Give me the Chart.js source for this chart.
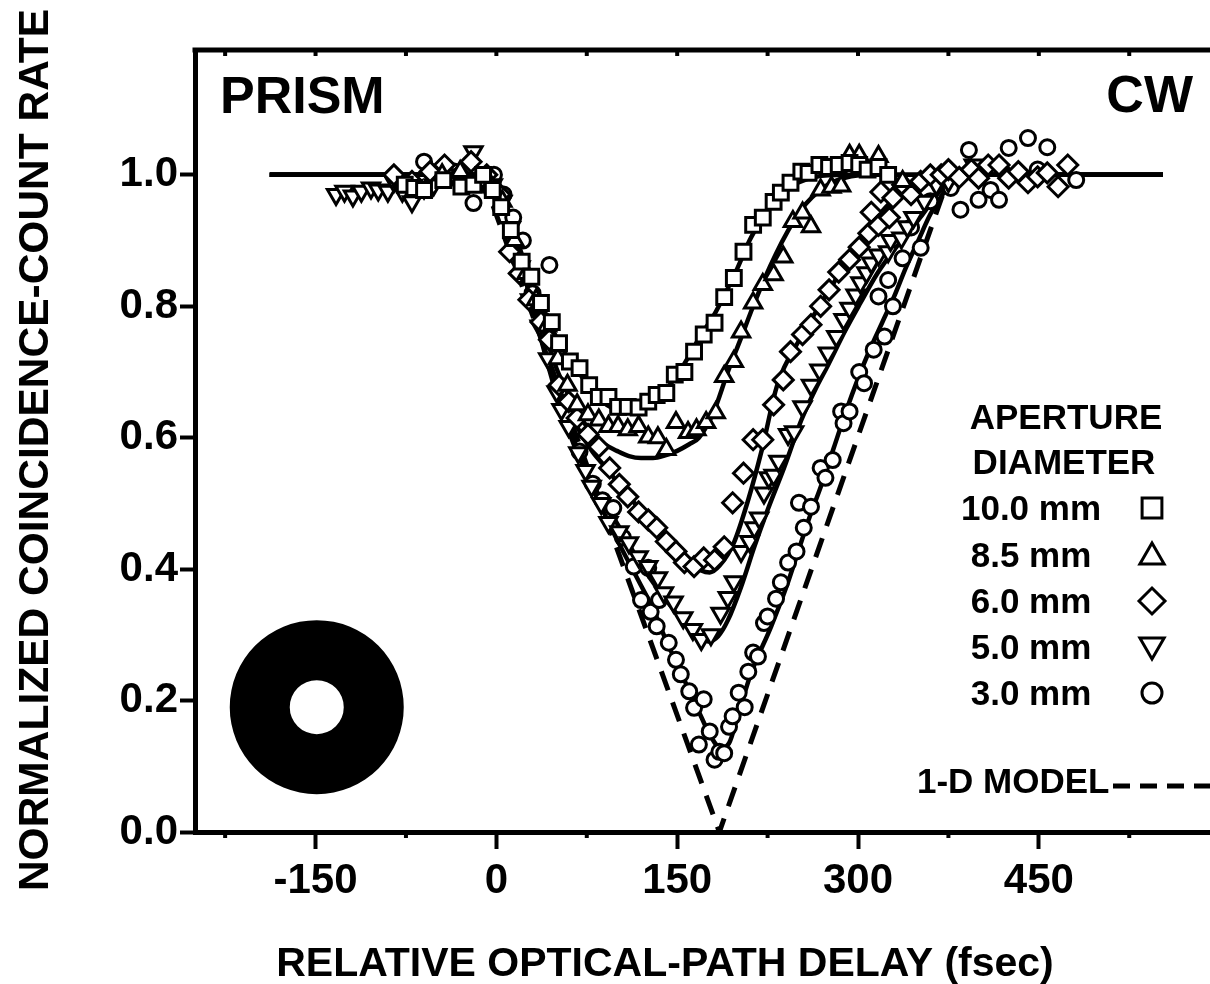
<!DOCTYPE html>
<html>
<head>
<meta charset="utf-8">
<script src="https://cdn.jsdelivr.net/npm/chart.js@4.4.1/dist/chart.umd.min.js"></script>
<style>
  html, body { margin: 0; padding: 0; background: #fff; overflow: hidden; }
  #wrap { position: relative; width: 1210px; height: 984px; }
</style>
</head>
<body>
<div id="wrap"><canvas id="chart"></canvas></div>
<script>
// ---- data: [delay fsec, normalized rate] ----
const d100 = [[-76,0.985],[-68,0.980],[-60,0.977],[-44,0.992],[-29,0.982],[-19,0.985],[-11,1.0],[-3,0.977],[4,0.951],[12,0.916],[21,0.868],[29,0.845],[37,0.805],[46,0.776],[52,0.744],[61,0.716],[69,0.706],[77,0.680],[85,0.662],[93,0.662],[101,0.647],[109,0.647],[118,0.646],[126,0.655],[133,0.665],[141,0.668],[148,0.696],[156,0.700],[164,0.731],[172,0.757],[181,0.775],[189,0.814],[197,0.843],[205,0.883],[213,0.924],[221,0.935],[230,0.959],[236,0.973],[244,0.988],[253,1.005],[259,1.003],[268,1.015],[276,1.012],[284,1.015],[293,1.018],[301,1.015],[308,1.008],[317,1.012],[325,1.0]];
const d85 = [[-45,1.0],[-30,1.005],[-15,0.99],[-5,0.985],[5,0.96],[15,0.9],[25,0.85],[33,0.81],[42,0.77],[51,0.72],[59,0.68],[67,0.65],[76,0.635],[85,0.627],[93,0.617],[101,0.617],[109,0.612],[118,0.617],[126,0.601],[134,0.600],[141,0.582],[149,0.623],[159,0.608],[166,0.612],[174,0.623],[182,0.638],[189,0.693],[197,0.716],[203,0.761],[213,0.805],[221,0.833],[230,0.848],[238,0.875],[246,0.929],[254,0.942],[261,0.921],[269,0.977],[278,0.981],[286,0.983],[293,1.03],[301,1.03],[317,1.028],[337,0.99]];
const d60 = [[-85,1.0],[-70,0.99],[-55,1.005],[-43,1.015],[-30,1.0],[-21,1.02],[-8,1.0],[3,0.97],[11,0.883],[19,0.85],[27,0.81],[37,0.776],[44,0.749],[52,0.68],[60,0.655],[67,0.63],[76,0.605],[85,0.586],[94,0.554],[102,0.529],[109,0.51],[118,0.487],[126,0.475],[133,0.463],[141,0.442],[149,0.427],[156,0.41],[164,0.404],[172,0.417],[181,0.414],[189,0.434],[196,0.501],[205,0.546],[213,0.597],[221,0.597],[230,0.65],[238,0.688],[244,0.731],[254,0.757],[261,0.772],[269,0.8],[276,0.825],[284,0.852],[293,0.871],[301,0.89],[309,0.911],[311,0.943],[317,0.923],[319,0.974],[326,0.935],[329,0.965],[337,0.985],[344,0.97],[352,0.99],[360,1.0],[369,1.0],[375,1.008],[384,0.996],[394,1.008],[400,0.995],[408,1.015],[417,1.015],[425,0.995],[433,1.005],[441,0.988],[449,0.997],[457,1.003],[466,0.982],[474,1.015]];
const d50 = [[-133,0.97],[-126,0.975],[-119,0.968],[-112,0.975],[-104,0.98],[-98,0.977],[-90,0.975],[-85,0.99],[-78,0.975],[-70,0.959],[-60,0.98],[-52,0.985],[-37,1.0],[-28,0.995],[-19,1.035],[-11,0.99],[-3,0.985],[5,0.96],[12,0.92],[20,0.86],[28,0.81],[36,0.77],[43,0.72],[50,0.67],[54,0.643],[60,0.617],[68,0.577],[74,0.55],[79,0.526],[87,0.50],[93,0.471],[102,0.457],[110,0.44],[118,0.419],[126,0.404],[134,0.387],[139,0.364],[147,0.35],[155,0.326],[163,0.308],[170,0.293],[178,0.30],[186,0.333],[192,0.357],[197,0.381],[203,0.427],[210,0.442],[214,0.463],[218,0.478],[222,0.516],[226,0.539],[230,0.543],[234,0.564],[242,0.605],[247,0.609],[254,0.647],[261,0.68],[268,0.703],[275,0.729],[282,0.754],[288,0.78],[293,0.797],[298,0.817],[302,0.836],[307,0.851],[311,0.866],[317,0.878],[325,0.883],[327,0.9],[336,0.904],[341,0.921],[346,0.935],[355,0.96],[365,0.985],[375,0.99],[385,1.0],[396,1.015]];
const d30 = [[-60,1.02],[-48,1.0],[-35,1.005],[-19,0.957],[-2,1.0],[6,0.97],[14,0.935],[22,0.9],[30,0.82],[38,0.78],[44,0.863],[52,0.68],[60,0.63],[69,0.579],[80,0.53],[88,0.505],[97,0.493],[105,0.448],[114,0.404],[120,0.353],[126,0.402],[128,0.335],[133,0.313],[135,0.353],[143,0.288],[149,0.262],[153,0.24],[160,0.214],[164,0.189],[168,0.133],[172,0.202],[177,0.153],[181,0.11],[185,0.122],[189,0.12],[193,0.16],[196,0.176],[201,0.212],[206,0.19],[209,0.244],[213,0.273],[217,0.267],[222,0.318],[225,0.328],[232,0.355],[236,0.38],[242,0.41],[249,0.427],[251,0.501],[255,0.463],[261,0.495],[269,0.554],[273,0.539],[279,0.566],[286,0.64],[288,0.622],[293,0.64],[301,0.70],[305,0.683],[313,0.734],[317,0.815],[322,0.754],[325,0.84],[329,0.80],[337,0.873],[344,0.92],[352,0.889],[360,0.96],[377,0.98],[385,0.947],[392,1.038],[400,0.962],[410,0.977],[417,0.962],[425,1.041],[441,1.056],[449,1.008],[457,1.042],[481,0.992]];

// fitted curves (solid) and the 1-D model (dashed)
const fit100 = [[-188,1],[-10,1],[0,0.99],[10,0.945],[20,0.885],[30,0.835],[40,0.79],[50,0.752],[60,0.72],[70,0.695],[80,0.672],[90,0.652],[100,0.643],[110,0.64],[120,0.643],[130,0.652],[140,0.672],[150,0.695],[160,0.725],[170,0.757],[180,0.785],[190,0.82],[200,0.858],[210,0.9],[220,0.932],[230,0.958],[240,0.976],[250,0.988],[265,0.997],[290,1],[553,1]];
const fit85 = [[-188,1],[-10,1],[0,0.99],[10,0.945],[20,0.88],[30,0.815],[40,0.76],[50,0.705],[60,0.665],[70,0.63],[80,0.607],[90,0.59],[100,0.58],[110,0.572],[120,0.569],[130,0.569],[140,0.573],[150,0.58],[160,0.59],[168,0.6],[180,0.638],[192,0.7],[203,0.752],[213,0.8],[222,0.84],[232,0.88],[242,0.915],[252,0.945],[262,0.966],[275,0.985],[290,0.996],[310,1],[553,1]];
const fit60 = [[-188,1],[-10,1],[0,0.99],[10,0.945],[20,0.875],[30,0.8],[40,0.735],[50,0.68],[60,0.64],[70,0.607],[80,0.578],[93,0.55],[105,0.52],[120,0.49],[135,0.46],[150,0.43],[160,0.412],[170,0.398],[177,0.395],[185,0.405],[197,0.44],[209,0.506],[220,0.58],[233,0.68],[253,0.754],[280,0.836],[295,0.882],[310,0.922],[327,0.958],[345,0.983],[365,0.997],[390,1],[553,1]];
const fit50 = [[-188,1],[-10,1],[0,0.99],[10,0.945],[20,0.88],[30,0.8],[40,0.73],[50,0.665],[60,0.61],[70,0.565],[80,0.53],[87,0.506],[100,0.47],[114,0.425],[128,0.385],[142,0.35],[152,0.327],[162,0.307],[170,0.295],[176,0.29],[184,0.298],[192,0.322],[203,0.373],[214,0.434],[225,0.49],[239,0.556],[253,0.627],[265,0.675],[275,0.71],[290,0.765],[302,0.805],[316,0.85],[330,0.886],[341,0.91],[352,0.936],[369,0.977],[385,0.995],[400,1],[553,1]];
const fit30 = [[-188,1],[-10,1],[0,0.99],[10,0.94],[20,0.87],[30,0.8],[40,0.735],[50,0.675],[60,0.62],[70,0.568],[80,0.522],[90,0.483],[100,0.445],[110,0.41],[120,0.375],[130,0.34],[140,0.295],[150,0.255],[160,0.215],[170,0.175],[178,0.145],[186,0.128],[193,0.135],[200,0.175],[211,0.24],[228,0.313],[240,0.37],[250,0.425],[260,0.48],[270,0.53],[280,0.585],[290,0.64],[300,0.69],[310,0.735],[320,0.775],[330,0.815],[340,0.86],[350,0.9],[360,0.94],[370,0.97],[380,0.99],[395,1],[553,1]];
const model1D = [[-12,1],[185,0],[376,1]];

const apertures = ['10.0 mm', '8.5 mm', '6.0 mm', '5.0 mm', '3.0 mm'];
const xTicks = [-150, 0, 150, 300, 450];
const yTicks = [0, 0.2, 0.4, 0.6, 0.8, 1.0];

const FONT = '"Liberation Sans", Arial, Helvetica, sans-serif';
const toXY = arr => arr.map(p => ({ x: p[0], y: p[1] }));

// marker styles per aperture (same order as apertures)
const markers = [
  { data: d100, style: 'rect',     radius: 10.5, rotation: 0,   legendRadius: 14 },
  { data: d85,  style: 'triangle', radius: 10,   rotation: 0,   legendRadius: 14 },
  { data: d60,  style: 'rectRot',  radius: 10,   rotation: 0,   legendRadius: 13 },
  { data: d50,  style: 'triangle', radius: 10,   rotation: 180, legendRadius: 14 },
  { data: d30,  style: 'circle',   radius: 7.5,  rotation: 0,   legendRadius: 10 },
];
const fits = [fit100, fit85, fit60, fit50, fit30];

const datasets = [];
fits.forEach((f, i) => {
  datasets.push({
    label: 'fit ' + apertures[i],
    data: toXY(f),
    showLine: true,
    borderColor: '#000',
    borderWidth: 4.5,
    pointRadius: 0,
    cubicInterpolationMode: 'monotone',
    order: 3,
  });
});
datasets.push({
  label: '1-D MODEL',
  data: toXY(model1D),
  showLine: true,
  borderColor: '#000',
  borderWidth: 5,
  borderDash: [20, 13],
  pointRadius: 0,
  order: 2,
});
markers.forEach((m, i) => {
  datasets.push({
    label: apertures[i],
    data: toXY(m.data),
    showLine: false,
    pointStyle: m.style,
    pointRadius: m.radius,
    pointRotation: m.rotation,
    pointBackgroundColor: '#fff',
    pointBorderColor: '#000',
    pointBorderWidth: 3,
    order: 1,
  });
});

// extra drawing: frame top, minor ticks, annular aperture icon, labels, legend
const decor = {
  id: 'decor',
  afterDraw(chart) {
    const { ctx, chartArea: ca } = chart;
    const xs = chart.scales.x, ys = chart.scales.y;
    ctx.save();
    ctx.strokeStyle = '#000';
    ctx.fillStyle = '#000';

    // top frame line
    ctx.lineWidth = 5;
    ctx.beginPath();
    ctx.moveTo(ca.left - 2.5, ca.top);
    ctx.lineTo(ca.right, ca.top);
    ctx.stroke();

    // small minor ticks
    ctx.lineWidth = 4;
    for (let v = -225; v <= 600; v += 75) {
      const px = xs.getPixelForValue(v);
      if (px > ca.right) break;
      ctx.beginPath();
      ctx.moveTo(px, ca.top);
      ctx.lineTo(px, ca.top + 6);
      ctx.stroke();
      if (!xTicks.includes(v)) {
        ctx.beginPath();
        ctx.moveTo(px, ca.bottom);
        ctx.lineTo(px, ca.bottom + 6);
        ctx.stroke();
      }
    }

    // annular aperture icon
    const cx = xs.getPixelForValue(-149), cy = ys.getPixelForValue(0.19);
    ctx.beginPath();
    ctx.arc(cx, cy, 87, 0, Math.PI * 2);
    ctx.arc(cx, cy, 27, 0, Math.PI * 2, true);
    ctx.fill('evenodd');

    // corner labels
    ctx.textBaseline = 'alphabetic';
    ctx.font = 'bold 52px ' + FONT;
    ctx.textAlign = 'left';
    ctx.fillText('PRISM', 220, 113);
    ctx.textAlign = 'right';
    ctx.fillText('CW', 1193, 112);

    // legend
    ctx.font = 'bold 35px ' + FONT;
    ctx.textAlign = 'center';
    ctx.fillText('APERTURE', 1066, 429);
    ctx.fillText('DIAMETER', 1064, 474);
    const rowBase = [520, 567, 613, 659, 705];
    apertures.forEach((t, i) => {
      ctx.fillStyle = '#000';
      ctx.textAlign = 'center';
      ctx.fillText(t, 1031, rowBase[i]);
      const m = markers[i];
      ctx.fillStyle = '#fff';
      ctx.lineWidth = 3;
      Chart.helpers.drawPoint(ctx, {
        pointStyle: m.style, radius: m.legendRadius, rotation: m.rotation, borderWidth: 3
      }, 1152, rowBase[i] - 12 + (m.style === 'triangle' ? (m.rotation ? -2 : 2) : 0));
    });
    ctx.fillStyle = '#000';
    ctx.textAlign = 'left';
    ctx.fillText('1-D MODEL', 917, 793);
    ctx.lineWidth = 5;
    ctx.setLineDash([17, 10]);
    ctx.beginPath();
    ctx.moveTo(1113, 786);
    ctx.lineTo(1210, 786);
    ctx.stroke();
    ctx.setLineDash([]);

    // axis titles
    ctx.font = 'bold 41px ' + FONT;
    ctx.textAlign = 'center';
    ctx.fillText('RELATIVE OPTICAL-PATH DELAY (fsec)', 665, 976);
    ctx.save();
    ctx.translate(48, 450);
    ctx.rotate(-Math.PI / 2);
    ctx.font = 'bold 42.5px ' + FONT;
    ctx.fillText('NORMALIZED COINCIDENCE-COUNT RATE', 0, 0);
    ctx.restore();

    ctx.restore();
  }
};

new Chart(document.getElementById('chart'), {
  type: 'scatter',
  data: { datasets },
  plugins: [decor],
  options: {
    responsive: true,
    maintainAspectRatio: false,
    animation: false,
    devicePixelRatio: 1,
    layout: { autoPadding: false, padding: { top: 50, right: 0, left: 0, bottom: 0 } },
    plugins: { legend: { display: false }, tooltip: { enabled: false } },
    scales: {
      x: {
        type: 'linear', min: -250, max: 592,
        afterBuildTicks: s => { s.ticks = xTicks.map(v => ({ value: v })); },
        afterFit: s => { s.height = 152; },
        grid: { drawOnChartArea: false, drawTicks: true, tickLength: 17, tickWidth: 4, tickColor: '#000' },
        border: { display: true, color: '#000', width: 5 },
        ticks: { color: '#000', font: { family: FONT, size: 42, weight: 'bold' }, padding: 7, maxRotation: 0, autoSkip: false }
      },
      y: {
        type: 'linear', min: 0, max: 1.19,
        afterBuildTicks: s => { s.ticks = yTicks.map(v => ({ value: v })); },
        afterFit: s => { s.width = 195; },
        grid: { drawOnChartArea: false, drawTicks: true, tickLength: 15, tickWidth: 4, tickColor: '#000' },
        border: { display: true, color: '#000', width: 5 },
        ticks: { color: '#000', font: { family: FONT, size: 42, weight: 'bold' }, padding: 2, autoSkip: false,
          callback: v => Number(v).toFixed(1) }
      }
    }
  }
});
</script>
</body>
</html>
